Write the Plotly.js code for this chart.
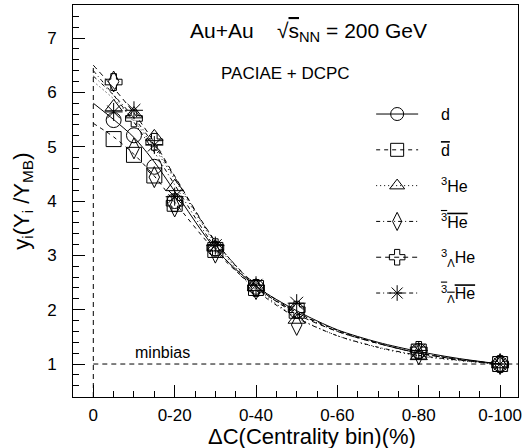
<!DOCTYPE html>
<html>
<head>
<meta charset="utf-8">
<script src="https://cdn.plot.ly/plotly-3.0.1.min.js"></script>
<style>html,body{margin:0;padding:0;background:#fff;}</style>
</head>
<body>
<div id="chart" style="width:527px;height:448px;"></div>
<script>
// ---- data ----
const centrality = [5, 10, 15, 20, 30, 40, 50, 80, 100];
const tickValues = [0, 20, 40, 60, 80, 100];
const tickLabels = ['0', '0-20', '0-40', '0-60', '0-80', '0-100'];

const yDeuteron      = [5.49, 5.21, 4.63, 4.00, 3.12, 2.42, 1.98, 1.24, 1.00];
const yAntiDeuteron  = [5.14, 4.85, 4.47, 3.95, 3.10, 2.40, 1.98, 1.23, 1.00];
const yHe3           = [5.73, 5.60, 5.18, 4.26, 3.15, 2.42, 1.82, 1.15, 1.00];
const yAntiHe3       = [6.20, 4.97, 4.44, 3.90, 3.05, 2.38, 1.72, 1.18, 1.00];
const yHyperH3       = [6.19, 5.52, 5.09, 3.96, 3.15, 2.40, 2.00, 1.26, 1.00];
const yAntiHyperH3   = [5.64, 5.67, 5.03, 4.08, 3.18, 2.45, 2.12, 1.25, 1.00];

// fit curves read at these centrality values
const curveX = [0, 5, 10, 15, 20, 30, 40, 50, 60, 70, 80, 90, 100];
const fitDeuteron     = [5.80, 5.50, 5.17, 4.72, 4.18, 3.12, 2.43, 1.98, 1.63, 1.40, 1.23, 1.10, 1.00];
const fitAntiDeuteron = [5.43, 5.18, 4.86, 4.46, 3.98, 3.08, 2.40, 1.95, 1.62, 1.38, 1.20, 1.09, 1.00];
const fitHe3          = [6.20, 5.88, 5.48, 4.98, 4.40, 3.22, 2.40, 1.86, 1.52, 1.30, 1.15, 1.06, 1.00];
const fitAntiHe3      = [6.40, 5.95, 5.45, 4.90, 4.30, 3.15, 2.36, 1.85, 1.52, 1.31, 1.16, 1.07, 1.00];
const fitHyperH3      = [6.50, 6.08, 5.62, 5.08, 4.46, 3.26, 2.43, 1.92, 1.60, 1.38, 1.20, 1.08, 1.00];
const fitAntiHyperH3  = [6.30, 5.95, 5.53, 5.03, 4.44, 3.25, 2.45, 1.95, 1.60, 1.38, 1.20, 1.08, 1.00];

const pad = '\u00a0\u00a0\u00a0\u00a0';
const names = [
  pad + 'd',
  pad + '<span style="text-decoration:overline">d</span>',
  pad + '<sup>3</sup>He',
  pad + '<span style="text-decoration:overline"><sup>3</sup>He</span>',
  pad + '<sup>3</sup><sub>Λ</sub>He',
  pad + '<span style="text-decoration:overline"><sup>3</sup><sub>Λ</sub>He</span>'
];
const minbiasLevel = 1;
const verticalTop = 6.5;

// ---- styles ----
const series = [
  {y: yDeuteron,     fit: fitDeuteron,     symbol: 'circle-open',      size: 15, dash: 'solid'},
  {y: yAntiDeuteron, fit: fitAntiDeuteron, symbol: 'square-open',      size: 15, dash: '4px,4px'},
  {y: yHe3,          fit: fitHe3,          symbol: 'triangle-up-open', size: 15, dash: '1px,3px'},
  {y: yAntiHe3,      fit: fitAntiHe3,      symbol: 'diamond-tall-open',size: 15, dash: '4px,3px,1px,3px'},
  {y: yHyperH3,      fit: fitHyperH3,      symbol: 'cross-open',       size: 14, dash: '5px,4px'},
  {y: yAntiHyperH3,  fit: fitAntiHyperH3,  symbol: 'asterisk-open',    size: 15, dash: '4px,3px,1px,3px'}
];

const traces = [];
series.forEach((s, i) => {
  traces.push({x: curveX, y: s.fit, mode: 'lines', line: {color: '#000', width: 1, dash: s.dash, shape: 'spline', smoothing: 0.8},
    showlegend: false, hoverinfo: 'skip'});
});
series.forEach((s, i) => {
  traces.push({x: centrality, y: s.y, mode: 'markers',
    marker: {symbol: s.symbol, size: s.size, color: '#000', line: {color: '#000', width: 1}},
    showlegend: false});
});
series.forEach((s, i) => {
  traces.push({x: [null], y: [null], mode: 'lines+markers', name: names[i], legendgroup: 'g' + i,
    line: {color: '#000', width: 1, dash: s.dash},
    marker: {symbol: s.symbol, size: 13, color: '#000', line: {color: '#000', width: 1}}});
});

const font = 'Liberation Sans, Arial, sans-serif';
const layout = {
  width: 527, height: 448,
  margin: {l: 73, r: 9, t: 5, b: 51},
  paper_bgcolor: '#fff', plot_bgcolor: '#fff',
  font: {family: font, color: '#000'},
  showlegend: true,
  legend: {x: 0.67, y: 0.765, xanchor: 'left', yanchor: 'top', bgcolor: 'rgba(0,0,0,0)',
    font: {size: 16, family: font}, tracegroupgap: 12, itemwidth: 42},
  xaxis: {range: [-4.99, 104.4], showgrid: false, zeroline: false,
    showline: true, mirror: true, linecolor: '#000', linewidth: 1,
    tickmode: 'array', tickvals: tickValues, ticktext: tickLabels,
    ticks: 'inside', ticklen: 12, tickcolor: '#000', ticklabelstandoff: 3,
    tickfont: {size: 17, family: font},
    minor: {tickmode: 'linear', tick0: 0, dtick: 5, ticks: 'inside', ticklen: 6, tickcolor: '#000'}},
  yaxis: {range: [0.393, 7.608], showgrid: false, zeroline: false,
    showline: true, mirror: true, linecolor: '#000', linewidth: 1,
    tickmode: 'linear', tick0: 0, dtick: 1,
    ticks: 'inside', ticklen: 12, tickcolor: '#000', ticklabelstandoff: 12,
    tickfont: {size: 17, family: font},
    minor: {tickmode: 'linear', tick0: 0, dtick: 0.2, ticks: 'inside', ticklen: 6, tickcolor: '#000'}},
  shapes: [
    {type: 'line', xref: 'x', yref: 'y', x0: 0, x1: 0, y0: 0.393, y1: verticalTop,
      line: {color: '#000', width: 1, dash: '5px,4px'}},
    {type: 'line', xref: 'x', yref: 'y', x0: 0, x1: 104.4, y0: minbiasLevel, y1: minbiasLevel,
      line: {color: '#000', width: 1, dash: '5px,4px'}}
  ],
  annotations: [
    {xref: 'paper', yref: 'paper', x: 0.53, y: 0.93, xanchor: 'center', yanchor: 'middle', showarrow: false,
      text: 'Au+Au    √<span style="text-decoration:overline">s</span><sub>NN</sub> = 200 GeV', font: {size: 21, family: font}},
    {xref: 'paper', yref: 'paper', x: 0.478, y: 0.826, xanchor: 'center', yanchor: 'middle', showarrow: false,
      text: 'PACIAE + DCPC', font: {size: 17, family: font}},
    {xref: 'x', yref: 'y', x: 17, y: 1.22, xanchor: 'center', yanchor: 'middle', showarrow: false,
      text: 'minbias', font: {size: 16, family: font}},
    {xref: 'paper', yref: 'paper', x: (312 - 73) / 445, y: -0.1, xanchor: 'center', yanchor: 'middle', showarrow: false,
      text: 'ΔC(Centrality bin)(%)', font: {size: 22, family: font}},
    {xref: 'paper', yref: 'paper', x: -0.113, y: 0.5, xanchor: 'center', yanchor: 'middle', showarrow: false, textangle: -90,
      text: 'y<sub>i</sub>(Y<sub>i</sub> /Y<sub>MB</sub>)', font: {size: 22, family: font}}
  ]
};

Plotly.newPlot('chart', traces, layout, {displayModeBar: false, staticPlot: true});
</script>
</body>
</html>
